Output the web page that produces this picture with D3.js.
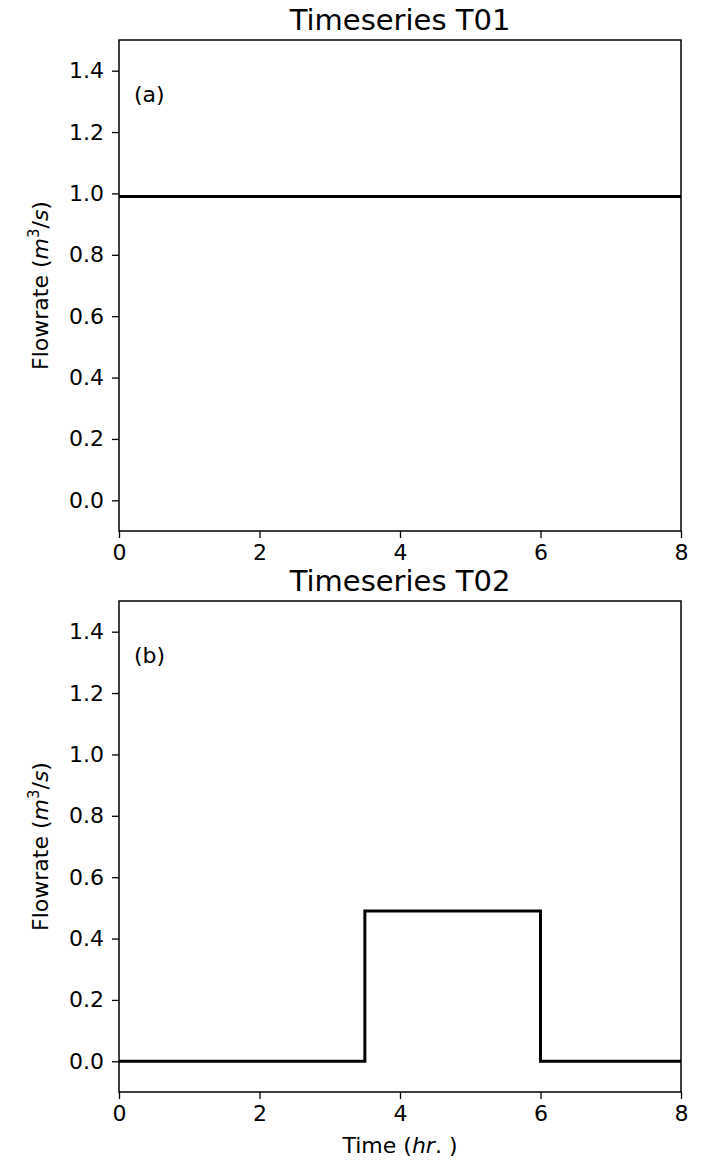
<!DOCTYPE html>
<html>
<head>
<meta charset="utf-8">
<script src="https://cdn.jsdelivr.net/npm/d3@7"></script>
<style>
  body { margin: 0; background: #fff; }
  text { font-family: "DejaVu Sans", sans-serif; }
</style>
</head>
<body>
<script>
// data
var titles = ["Timeseries T01", "Timeseries T02"];
var panelTags = ["(a)", "(b)"];
var timeT01 = [0, 8];
var flowT01 = [0.99, 0.99];
var timeT02 = [0, 3.5, 3.5, 6, 6, 8];
var flowT02 = [0, 0, 0.49, 0.49, 0, 0];
var xTicks = [0, 2, 4, 6, 8];
var yTicks = [0.0, 0.2, 0.4, 0.6, 0.8, 1.0, 1.2, 1.4];

var w = 706, h = 1161;
var left = 119, right = 681;
var panelTops = [40, 601];
var panelH = 491;

var svg = d3.select("body").append("svg")
    .attr("width", w)
    .attr("height", h);

var xScale = d3.scaleLinear().domain([0, 8]).range([left, right]);

function drawPanel(i, xs, ys, showXLabel) {
    var top = panelTops[i];
    var yScale = d3.scaleLinear().domain([-0.1, 1.5]).range([top + panelH, top]);
    var g = svg.append("g");

    // line
    var pts = xs.map(function(d, k){ return [d, ys[k]]; });
    var line = d3.line()
        .x(function(d){ return xScale(d[0]); })
        .y(function(d){ return yScale(d[1]); });
    g.append("path")
        .datum(pts)
        .attr("d", line)
        .attr("fill", "none")
        .attr("stroke", "#000")
        .attr("stroke-width", 3);

    // x axis
    var xAxis = d3.axisBottom(xScale).tickValues(xTicks).tickFormat(d3.format("d")).tickSizeOuter(0).tickSize(7).tickPadding(6);
    var gx = g.append("g")
        .attr("transform", "translate(0," + (top + panelH) + ")")
        .call(xAxis);
    // y axis
    var yAxis = d3.axisLeft(yScale).tickValues(yTicks).tickFormat(d3.format(".1f")).tickSizeOuter(0).tickSize(7).tickPadding(8);
    var gy = g.append("g")
        .attr("transform", "translate(" + left + ",0)")
        .call(yAxis);
    [gx, gy].forEach(function(a){
        a.selectAll("text").attr("font-size", "22px").attr("fill", "#000").attr("font-family", "DejaVu Sans");
        a.selectAll("line").attr("stroke", "#000").attr("stroke-width", 1.3);
        a.select(".domain").remove();
    });

    // frame
    g.append("rect")
        .attr("x", left).attr("y", top)
        .attr("width", right - left).attr("height", panelH)
        .attr("fill", "none").attr("stroke", "#000").attr("stroke-width", 1.5);

    // title
    g.append("text")
        .attr("x", (left + right) / 2).attr("y", top - 10)
        .attr("text-anchor", "middle")
        .attr("font-size", "29px")
        .text(titles[i]);

    // panel tag
    g.append("text")
        .attr("x", left + 15).attr("y", top + 62)
        .attr("font-size", "22px")
        .text(panelTags[i]);

    // y label
    var yl = g.append("text")
        .attr("transform", "translate(48," + (top + panelH / 2) + ") rotate(-90)")
        .attr("text-anchor", "middle")
        .attr("font-size", "22px");
    yl.append("tspan").text("Flowrate (");
    yl.append("tspan").attr("font-style", "italic").text("m");
    yl.append("tspan").attr("font-size", "15px").attr("dy", -9).text("3");
    yl.append("tspan").attr("dy", 9).text("/");
    yl.append("tspan").attr("font-style", "italic").text("s");
    yl.append("tspan").text(")");

    if (showXLabel) {
        var xl = g.append("text")
            .attr("x", (left + right) / 2).attr("y", top + panelH + 61)
            .attr("text-anchor", "middle")
            .attr("font-size", "22px");
        xl.append("tspan").text("Time (");
        xl.append("tspan").attr("font-style", "italic").text("hr");
        xl.append("tspan").text(". )");
    }
}

drawPanel(0, timeT01, flowT01, false);
drawPanel(1, timeT02, flowT02, true);
</script>
</body>
</html>
